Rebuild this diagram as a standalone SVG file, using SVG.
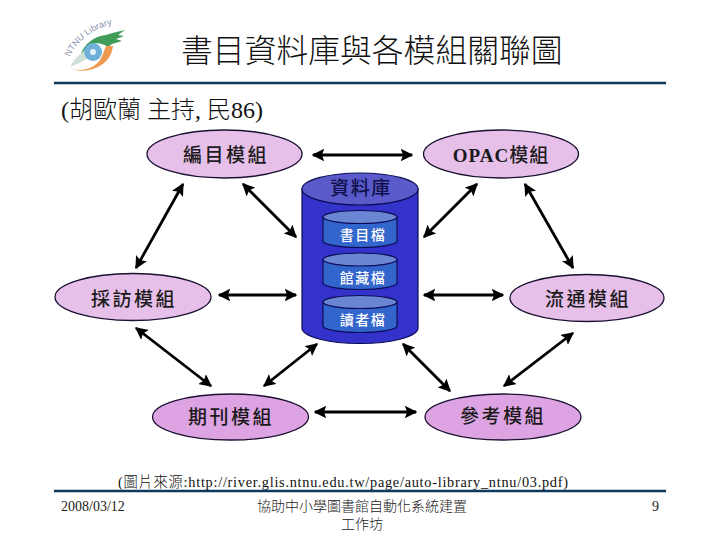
<svg xmlns="http://www.w3.org/2000/svg" width="720" height="540" viewBox="0 0 720 540">
<style>
text{font-family:"Liberation Serif","Noto Sans CJK TC",serif;fill:#111}
.rule{stroke:#0f3a5c;stroke-width:2.4}
.hi{fill:#e7c0ea;stroke:#1a1030;stroke-width:1.3}
.lo{fill:#dda3e2;stroke:#1a1030;stroke-width:1.3}
.lab{font-size:19px;letter-spacing:2.500px;text-anchor:middle;font-weight:500;fill:#1a1a1a}
.inner{font-size:14px;letter-spacing:1.500px;text-anchor:middle;fill:#fff;font-weight:500}
.ar{stroke:#000;stroke-width:2.800;fill:none;marker-start:url(#h);marker-end:url(#h)}
.foot{font-size:14px;fill:#222;font-weight:300}
.cb{fill:#3333cc;stroke:#0c0c55;stroke-width:1.2}
.ct{fill:#5a5acb;stroke:#0c0c55;stroke-width:1.2}
.ib{fill:#3366cc;stroke:#0c0c55;stroke-width:1.2}
.it{fill:#6a86d2;stroke:#0c0c55;stroke-width:1.2}
</style>
<defs>
<marker id="h" viewBox="0 0 10 10" refX="9" refY="5" markerWidth="4.5" markerHeight="4.5" orient="auto-start-reverse"><path d="M0 0L10 5L0 10L2 5Z" fill="#000"/></marker>
<path id="arc" d="M70 57C76 43 90 30 110 25"/>
</defs>

<g id="logo">
<path d="M80 56C84 44 94 36 106 35C112 33 120 31 125 30L118 35L124 36L116 39L122 41L112 44L108 47C100 42 92 42 86 48Z" fill="#3f9d57"/>
<path d="M72 69C84 72 94 68 100 60C103 55 104 50 106 46L113 46C112 56 106 63 98 67C90 71 80 72 72 69Z" fill="#ee9a50"/>
<path d="M70 67C76 65 82 62 88 58L83 52C77 56 73 61 70 67Z" fill="#cfe0d8"/>
<circle cx="93" cy="52" r="9" fill="#6fb0d8"/><circle cx="93" cy="52" r="3" fill="#e4f2f8"/>
<text font-size="9" style="fill:#8a93b0;font-family:'Liberation Sans',sans-serif"><textPath href="#arc">NTNU Library</textPath></text>
</g>

<text id="title" x="181" y="62" font-size="31.8px" font-weight="300">書目資料庫與各模組關聯圖</text>
<line class="rule" x1="54" y1="83" x2="666" y2="83"/>
<text id="subtitle" x="61" y="118" font-size="24px" font-weight="300">(胡歐蘭 主持, 民86)</text>

<g id="connectors">
<line class="ar" x1="313" y1="155" x2="412" y2="155"/>
<line class="ar" x1="183" y1="184" x2="136" y2="268"/>
<line class="ar" x1="243" y1="184" x2="296" y2="237"/>
<line class="ar" x1="477" y1="184" x2="424" y2="237"/>
<line class="ar" x1="525" y1="184" x2="573" y2="268"/>
<line class="ar" x1="219" y1="295" x2="296" y2="295"/>
<line class="ar" x1="424" y1="295" x2="503" y2="295"/>
<line class="ar" x1="136" y1="328" x2="211" y2="386"/>
<line class="ar" x1="317" y1="344" x2="264" y2="386"/>
<line class="ar" x1="403" y1="344" x2="450" y2="391"/>
<line class="ar" x1="573" y1="333" x2="504" y2="386"/>
<line class="ar" x1="315" y1="412" x2="416" y2="412"/>
</g>

<g id="node-bianmu"><ellipse class="hi" cx="224.500" cy="154" rx="77.500" ry="24"/><text class="lab" x="226" y="162">編目模組</text></g>
<g id="node-opac"><ellipse class="hi" cx="501" cy="154" rx="77.500" ry="24"/><text class="lab" x="501" y="162" style="letter-spacing:1px"><tspan font-weight="700">OPAC</tspan>模組</text></g>
<g id="node-caifang"><ellipse class="hi" cx="133" cy="297" rx="78" ry="23.500"/><text class="lab" x="134" y="306">採訪模組</text></g>
<g id="node-liutong"><ellipse class="hi" cx="587" cy="298" rx="77" ry="23.500"/><text class="lab" x="588" y="306">流通模組</text></g>
<g id="node-qikan"><ellipse class="lo" cx="230.500" cy="417" rx="78" ry="23"/><text class="lab" x="231" y="424">期刊模組</text></g>
<g id="node-cankao"><ellipse class="lo" cx="503" cy="417" rx="78" ry="23"/><text class="lab" x="503" y="423">參考模組</text></g>

<g id="node-db">
<path class="cb" d="M302 189V328A58 15.500 0 0 0 418 328V189Z"/>
<ellipse class="ct" cx="360" cy="189" rx="58" ry="16"/>
<text class="lab" x="361" y="195" style="font-size:19px;letter-spacing:1.500px;fill:#10104a">資料庫</text>
<path class="ib" d="M323 217V241A37 6.500 0 0 0 397 241V217Z"/><ellipse class="it" cx="360" cy="217" rx="37" ry="6.500"/>
<text class="inner" x="363" y="240">書目檔</text>
<path class="ib" d="M323 259.500V283A37 6.500 0 0 0 397 283V259.500Z"/><ellipse class="it" cx="360" cy="259.500" rx="37" ry="6.500"/>
<text class="inner" x="363" y="283">館藏檔</text>
<path class="ib" d="M323 302V326A37 6.500 0 0 0 397 326V302Z"/><ellipse class="it" cx="360" cy="302" rx="37" ry="6.500"/>
<text class="inner" x="363" y="325">讀者檔</text>
</g>

<text id="caption" x="118" y="487" font-size="14.300px" font-weight="300" textLength="450">(圖片來源:http://river.glis.ntnu.edu.tw/page/auto-library_ntnu/03.pdf)</text>
<line class="rule" x1="54" y1="491" x2="666" y2="491"/>
<text class="foot" x="61" y="511">2008/03/12</text>
<text class="foot" x="362" y="511" text-anchor="middle">協助中小學圖書館自動化系統建置</text>
<text class="foot" x="362" y="529" text-anchor="middle">工作坊</text>
<text class="foot" x="659" y="511" text-anchor="end">9</text>
</svg>
